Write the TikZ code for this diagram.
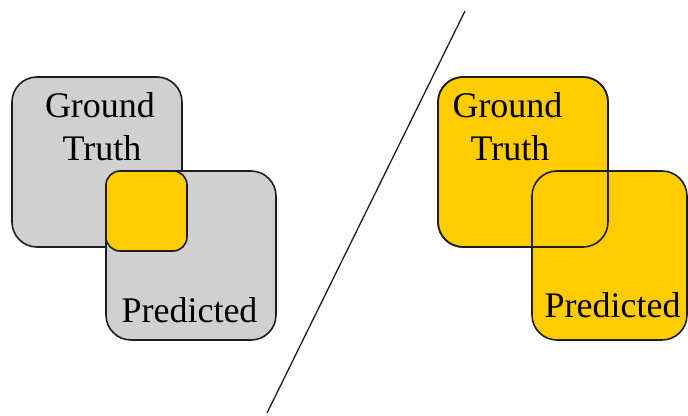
\documentclass[tikz,border=0pt]{standalone}
\usepackage{fontspec}
\setmainfont{Liberation Serif}
\definecolor{boxgray}{HTML}{D0D0D0}
\definecolor{boxyellow}{HTML}{FFCC00}
\definecolor{edge}{HTML}{1E1E1E}
\tikzset{
  bigbox/.style={draw=edge, line width=1.6pt, rounded corners=25pt, inner sep=0pt, outer sep=0pt},
  smallbox/.style={draw=edge, line width=1.6pt, rounded corners=14pt, inner sep=0pt, outer sep=0pt, fill=boxyellow},
  lbl/.style={font=\fontsize{36}{43}\selectfont, anchor=base, inner sep=0pt, text=black},
}
\begin{document}
\begin{tikzpicture}[x=1pt,y=-1pt]
\useasboundingbox (0,0) rectangle (688,415);
% left side
\node[bigbox, fill=boxgray, minimum width=170pt, minimum height=170pt] (gtL) at (97,162) {};
\node[bigbox, fill=boxgray, minimum width=170pt, minimum height=169pt] (prL) at (191,255.5) {};
\node[smallbox, minimum width=81pt, minimum height=80pt] (inter) at (146.5,211) {};
\node[lbl] (gtLa) at (100,117) {Ground};
\node[lbl] (gtLb) at (102,160) {Truth};
\node[lbl] (prLa) at (189.5,322) {Predicted};
% divider
\coordinate (lineTop) at (465,11);
\coordinate (lineBot) at (267,413);
\draw[edge, line width=1.3pt] (lineTop) -- (lineBot);
% right side
\node[bigbox, fill=boxyellow, minimum width=170pt, minimum height=170pt] (gtR) at (523,162) {};
\node[bigbox, fill=boxyellow, minimum width=155pt, minimum height=169pt] (prR) at (609.5,255.5) {};
\node[bigbox, minimum width=170pt, minimum height=170pt] (gtRo) at (523,162) {};
\node[lbl] (gtRa) at (507.5,117) {Ground};
\node[lbl] (gtRb) at (510,160) {Truth};
\node[lbl] (prRa) at (612.5,317) {Predicted};
\end{tikzpicture}
\end{document}
